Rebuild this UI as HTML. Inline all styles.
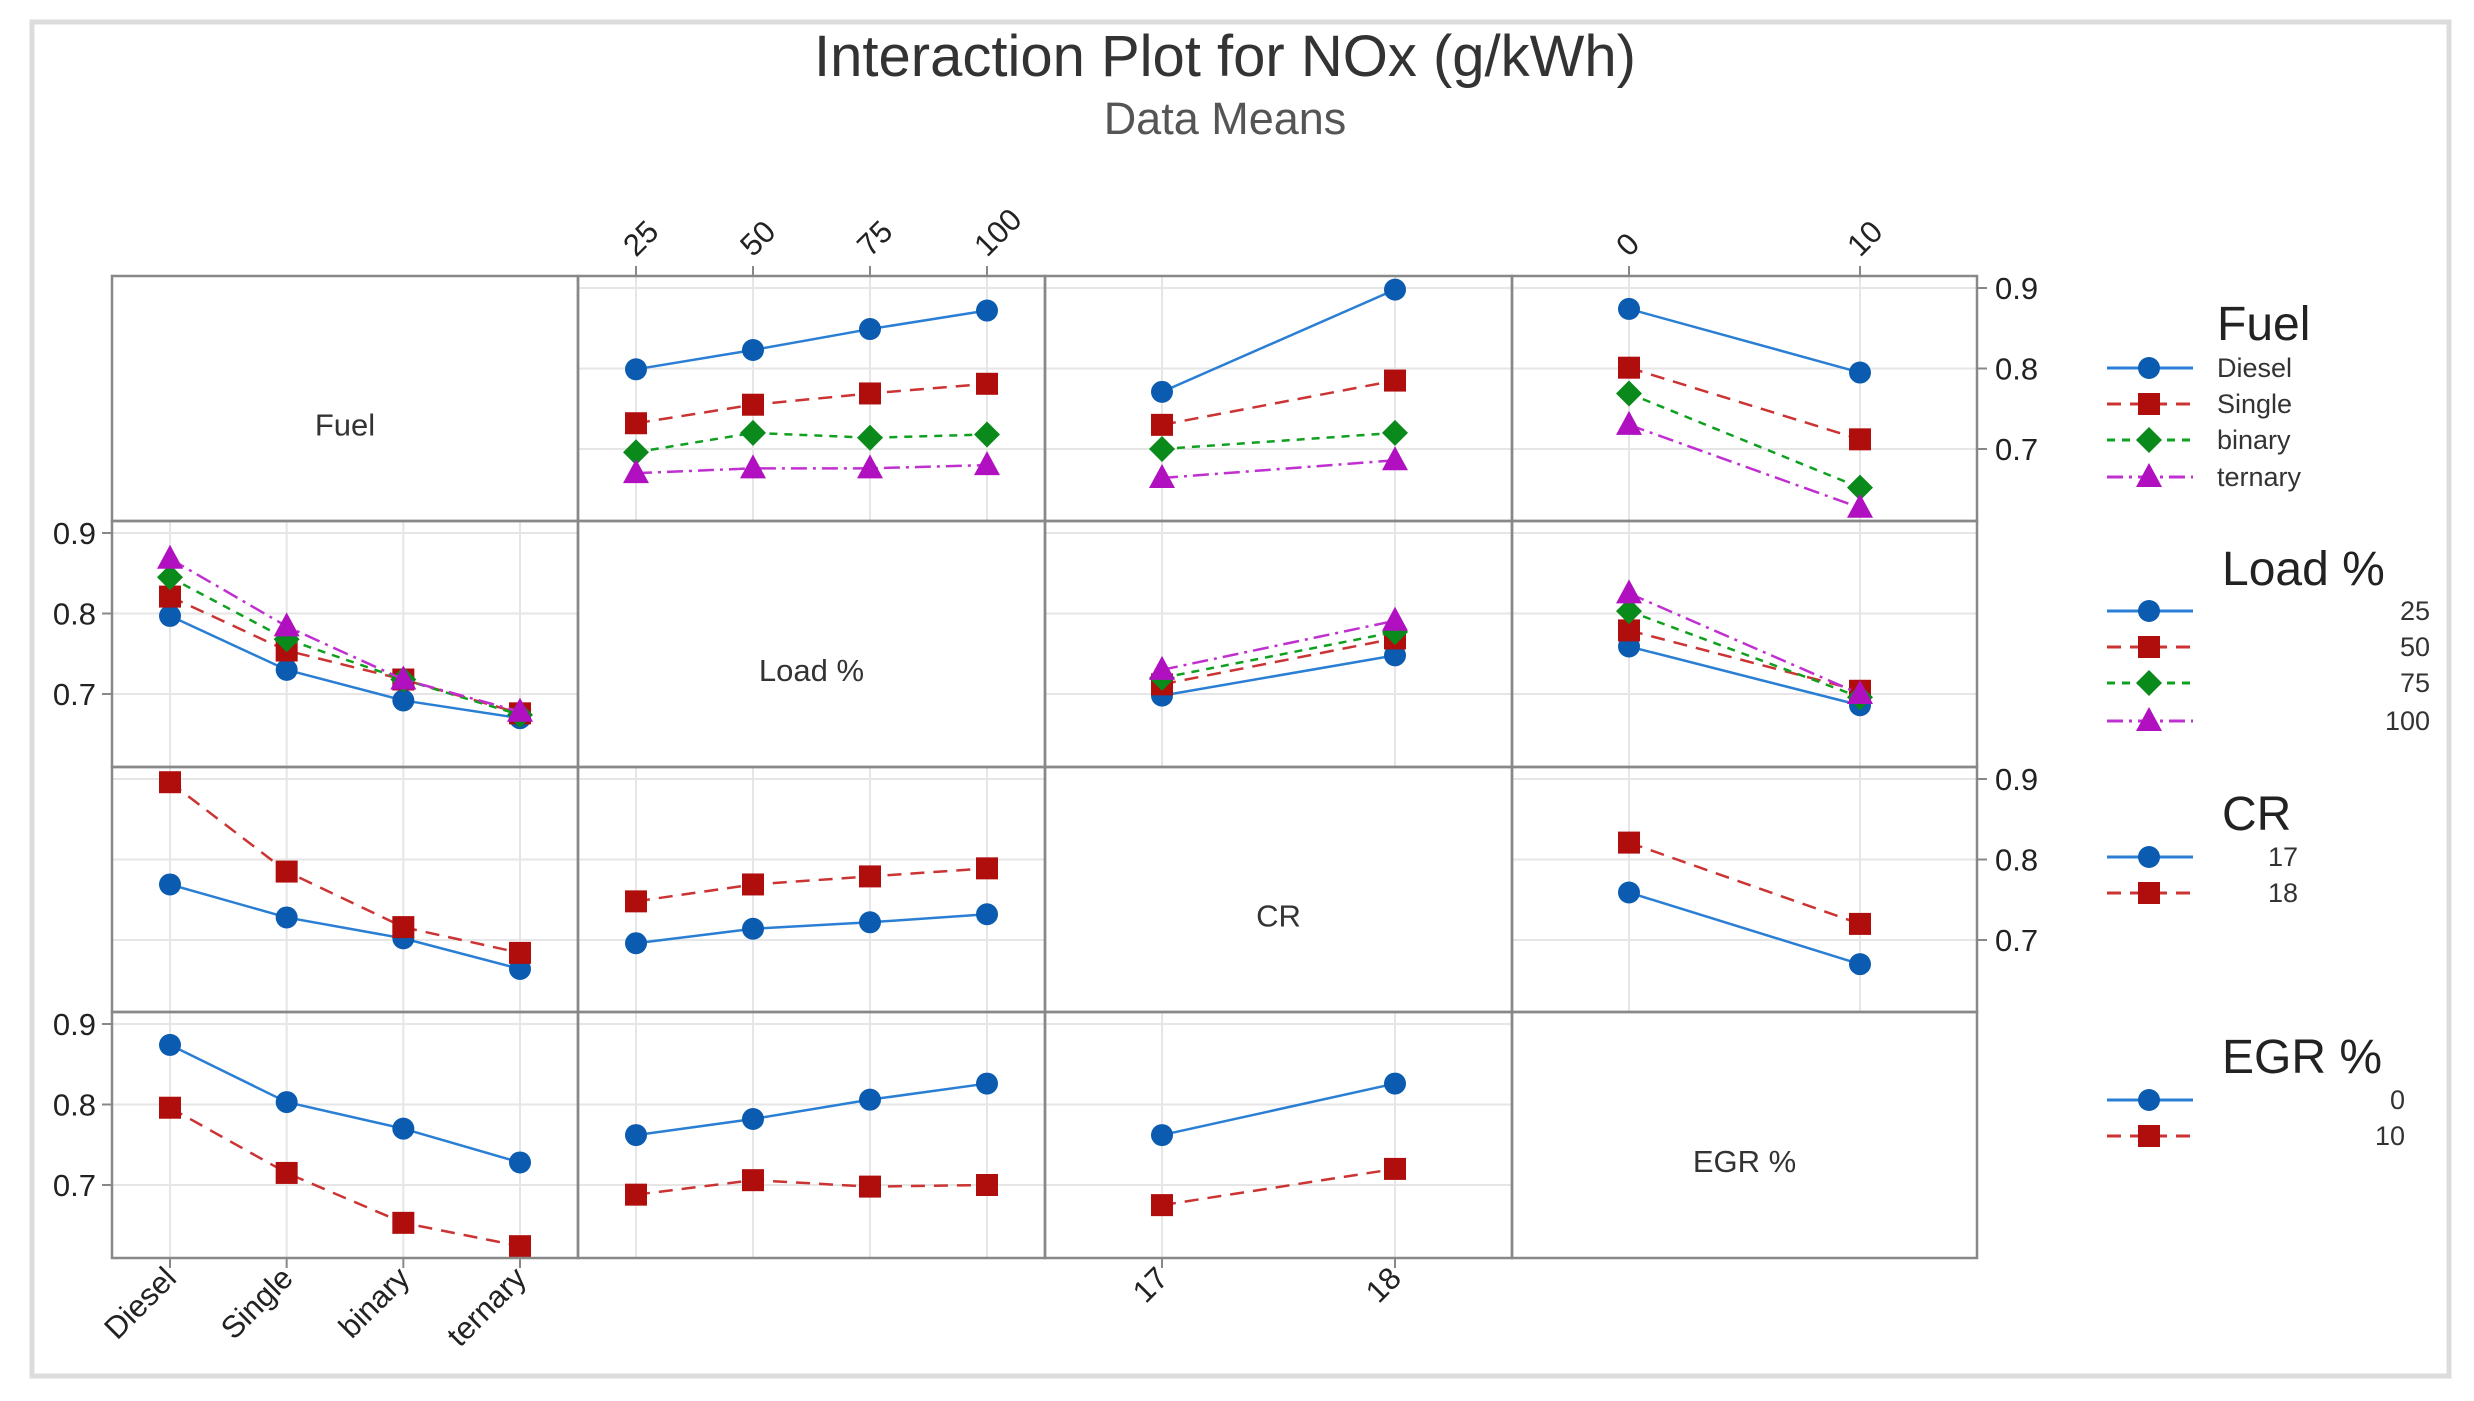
<!DOCTYPE html>
<html><head><meta charset="utf-8">
<style>
html,body{margin:0;padding:0;background:#fff;}
svg{display:block;font-family:"Liberation Sans","DejaVu Sans",sans-serif;}
</style></head>
<body>
<svg id="chart" width="2474" height="1401" viewBox="0 0 2474 1401" xmlns="http://www.w3.org/2000/svg">
<rect x="32" y="22" width="2417" height="1354" fill="#fff" stroke="#dcdcdc" stroke-width="5"/>
<text x="1225" y="76" text-anchor="middle" font-size="58" fill="#333">Interaction Plot for NOx (g/kWh)</text>
<text x="1225" y="134" text-anchor="middle" font-size="45" fill="#555">Data Means</text>
<g id="plot"></g>
</svg>
<script>
// factor definitions
const factorNames = ["Fuel", "Load %", "CR", "EGR %"];
const fuelLevels = ["Diesel", "Single", "binary", "ternary"];
const loadLevels = ["25", "50", "75", "100"];
const crLevels = ["17", "18"];
const egrLevels = ["0", "10"];
const yTicks = [0.7, 0.8, 0.9];

// Row 1: Fuel lines
const fuelByLoad = [[0.799,0.823,0.849,0.872],[0.732,0.755,0.769,0.781],[0.696,0.720,0.714,0.718],[0.670,0.676,0.676,0.680]];
const fuelByCR = [[0.771,0.898],[0.730,0.785],[0.700,0.720],[0.664,0.686]];
const fuelByEGR = [[0.874,0.795],[0.801,0.712],[0.769,0.652],[0.730,0.627]];
// Row 2: Load lines
const loadByFuel = [[0.797,0.730,0.692,0.670],[0.821,0.754,0.718,0.676],[0.845,0.768,0.718,0.674],[0.868,0.784,0.718,0.678]];
const loadByCR = [[0.698,0.748],[0.712,0.769],[0.720,0.777],[0.730,0.791]];
const loadByEGR = [[0.759,0.686],[0.779,0.704],[0.803,0.696],[0.825,0.700]];
// Row 3: CR lines
const crByFuel = [[0.769,0.728,0.702,0.664],[0.896,0.785,0.716,0.684]];
const crByLoad = [[0.696,0.714,0.722,0.732],[0.748,0.769,0.779,0.789]];
const crByEGR = [[0.759,0.670],[0.821,0.720]];
// Row 4: EGR lines
const egrByFuel = [[0.874,0.803,0.770,0.728],[0.796,0.715,0.653,0.624]];
const egrByLoad = [[0.762,0.782,0.806,0.826],[0.688,0.706,0.698,0.700]];
const egrByCR = [[0.762,0.826],[0.675,0.720]];

const levels = [fuelLevels, loadLevels, crLevels, egrLevels];
const panels = {
 "0-1":fuelByLoad,"0-2":fuelByCR,"0-3":fuelByEGR,
 "1-0":loadByFuel,"1-2":loadByCR,"1-3":loadByEGR,
 "2-0":crByFuel,"2-1":crByLoad,"2-3":crByEGR,
 "3-0":egrByFuel,"3-1":egrByLoad,"3-2":egrByCR
};
const colX=[112,578,1045,1512,1977];
const rowY=[276,521,767,1012,1258];
const styles=[
 {c:"#0b5cb0",l:"#2a7fd4",dash:"",m:"circle"},
 {c:"#b00d0d",l:"#cc3333",dash:"14,9",m:"square"},
 {c:"#0a8a1a",l:"#10a020",dash:"8,7",m:"diamond"},
 {c:"#b010c0",l:"#c030d0",dash:"16,6,3,6",m:"triangle"}
];
const NS="http://www.w3.org/2000/svg";
const plot=document.getElementById("plot");
function mk(tag,attrs,parent){const e=document.createElementNS(NS,tag);for(const k in attrs)e.setAttribute(k,attrs[k]);(parent||plot).appendChild(e);return e;}
function xPos(c,i,n){const w=colX[c+1]-colX[c];const pad=n===4?58:117;return colX[c]+pad+i*(w-2*pad)/(n-1);}
function yPos(r,v){return rowY[r]+12+(0.9-v)*805;}
function marker(m,x,y,col,parent){
 let e;
 if(m==="circle") e=mk("circle",{cx:x,cy:y,r:11,fill:col},parent);
 else if(m==="square") e=mk("rect",{x:x-11,y:y-11,width:22,height:22,fill:col},parent);
 else if(m==="diamond") e=mk("polygon",{points:`${x},${y-13} ${x+13},${y} ${x},${y+13} ${x-13},${y}`,fill:col},parent);
 else e=mk("polygon",{points:`${x},${y-14} ${x+13},${y+10} ${x-13},${y+10}`,fill:col},parent);
 return e;
}
// cells
for(let r=0;r<4;r++){for(let c=0;c<4;c++){
 const g=mk("g",{});
 
 
 const x0=colX[c],y0=rowY[r],w=colX[c+1]-x0,h=rowY[r+1]-y0;
 if(r===c){
  const t=mk("text",{x:x0+w/2,y:y0+h/2+37,"text-anchor":"middle","font-size":31,fill:"#333"},g);
  t.textContent=factorNames[r];
  
  
  continue;
 }
 const n=levels[c].length;
 for(let i=0;i<n;i++){const x=xPos(c,i,n);mk("line",{x1:x,x2:x,y1:y0,y2:y0+h,stroke:"#e6e6e6","stroke-width":2},g);}
 yTicks.forEach(v=>{const y=yPos(r,v);mk("line",{x1:x0,x2:x0+w,y1:y,y2:y,stroke:"#e6e6e6","stroke-width":2},g);});
 const data=panels[r+"-"+c];
 data.forEach((series,s)=>{
  const st=styles[s];
  const pts=series.map((v,i)=>xPos(c,i,n)+","+yPos(r,v)).join(" ");
  const pl=mk("polyline",{points:pts,fill:"none",stroke:st.l,"stroke-width":2.5,"stroke-dasharray":st.dash},g);
  
  
  series.forEach((v,i)=>{
   const mkr=marker(st.m,xPos(c,i,n),yPos(r,v),st.c,g);
   
   
  });
 });
}}
// grid borders
for(let r=0;r<4;r++)for(let c=0;c<4;c++){
 mk("rect",{x:colX[c],y:rowY[r],width:colX[c+1]-colX[c],height:rowY[r+1]-rowY[r],fill:"none",stroke:"#888","stroke-width":2.5});
}
// y axes: left for rows 1,3 ; right for rows 0,2
[1,3].forEach(r=>yTicks.forEach(v=>{
 const y=yPos(r,v);
 mk("line",{x1:colX[0]-10,x2:colX[0],y1:y,y2:y,stroke:"#888","stroke-width":2});
 const t=mk("text",{x:colX[0]-16,y:y+11,"text-anchor":"end","font-size":31,fill:"#222"});
 t.textContent=v.toFixed(1);
 
 
}));
[0,2].forEach(r=>yTicks.forEach(v=>{
 const y=yPos(r,v);
 mk("line",{x1:colX[4],x2:colX[4]+10,y1:y,y2:y,stroke:"#888","stroke-width":2});
 const t=mk("text",{x:colX[4]+18,y:y+11,"text-anchor":"start","font-size":31,fill:"#222"});
 t.textContent=v.toFixed(1);
 
 
}));
// x axes: top for cols 1,3 ; bottom for cols 0,2
[1,3].forEach(c=>{const n=levels[c].length;levels[c].forEach((lab,i)=>{
 const x=xPos(c,i,n);
 mk("line",{x1:x,x2:x,y1:rowY[0]-10,y2:rowY[0],stroke:"#888","stroke-width":2});
 const t=mk("text",{x:x,y:rowY[0]-18,"text-anchor":"start","font-size":31,fill:"#222",transform:`rotate(-45 ${x} ${rowY[0]-18})`});
 t.textContent=lab;
 
 
});});
[0,2].forEach(c=>{const n=levels[c].length;levels[c].forEach((lab,i)=>{
 const x=xPos(c,i,n);
 mk("line",{x1:x,x2:x,y1:rowY[4],y2:rowY[4]+10,stroke:"#888","stroke-width":2});
 const t=mk("text",{x:x+8,y:rowY[4]+22,"text-anchor":"end","font-size":31,fill:"#222",transform:`rotate(-45 ${x+8} ${rowY[4]+22})`});
 t.textContent=lab;
 
 
});});
// legends
const legends=[
 {title:"Fuel",ty:340,tx:2217,ys:[368,404,440,477],labels:fuelLevels,align:"start",lx:2217},
 {title:"Load %",ty:585,tx:2222,ys:[611,647,683,721],labels:loadLevels,align:"end",lx:2430},
 {title:"CR",ty:830,tx:2222,ys:[857,893],labels:crLevels,align:"end",lx:2298},
 {title:"EGR %",ty:1073,tx:2222,ys:[1100,1136],labels:egrLevels,align:"end",lx:2405}
];
legends.forEach((L,li)=>{
 const g=mk("g",{});
 
 
 const t=mk("text",{x:L.tx,y:L.ty,"font-size":48,fill:"#222"},g);
 t.textContent=L.title;
 L.labels.forEach((lab,i)=>{
  const st=styles[i],y=L.ys[i];
  mk("line",{x1:2107,x2:2193,y1:y,y2:y,stroke:st.l,"stroke-width":3,"stroke-dasharray":st.dash},g);
  marker(st.m,2149,y,st.c,g);
  const tt=mk("text",{x:L.lx,y:y+9,"text-anchor":L.align,"font-size":27,fill:"#333"},g);
  tt.textContent=lab;
  
  
 });
});
</script>
</body></html>
